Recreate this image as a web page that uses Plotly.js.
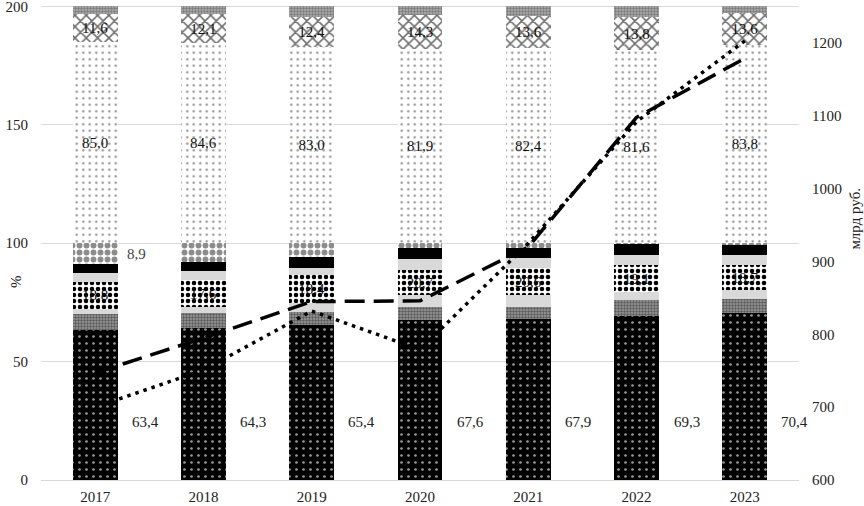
<!DOCTYPE html>
<html>
<head>
<meta charset="utf-8">
<script src="https://cdn.plot.ly/plotly-3.0.1.min.js"></script>
<style>html,body{margin:0;padding:0;background:#fff;}#chart{width:864px;height:506px;}</style>
</head>
<body>
<div id="chart"></div>
<script>
// ---- data ----
const years = ["2017", "2018", "2019", "2020", "2021", "2022", "2023"];

// lower 100% stack (bottom to top)
const blackBase   = [63.4, 64.3, 65.4, 67.6, 67.9, 69.3, 70.4];
const grayDense   = [6.5, 6.2, 5.5, 5.4, 5.1, 6.6, 6.0];
const lightGrayA  = [2.4, 2.5, 3.8, 5.1, 5.1, 3.4, 3.8];
const dottedMid   = [11.5, 11.4, 11.8, 10.5, 11.4, 11.4, 10.5];
const dottedMidLabels = [18.8, 17.6, 18.4, 20.7, 20.6, 19.1, 18.7];
const lightGrayB  = [3.8, 3.8, 3.0, 4.6, 4.2, 4.2, 4.2];
const blackTop    = [3.5, 3.8, 4.6, 4.7, 4.2, 4.6, 4.3];
const checkered   = [8.9, 8.0, 5.9, 2.1, 2.1, 0.5, 0.8];
const checkeredLabels = ["8,9", "", "", "", "", "", ""];

// upper 100% stack (bottom to top)
const lightDotted = [85.0, 84.6, 83.0, 81.9, 82.4, 81.6, 83.8];
const wavy        = [11.6, 12.1, 12.4, 14.3, 13.6, 13.8, 13.6];
const topGray     = [3.4, 3.3, 4.6, 3.8, 4.0, 4.6, 2.6];

// lines, bn rubles (right axis)
const dashedLine = [747, 795, 845, 846, 920, 1098, 1179];
const dottedLine = [700, 751, 832, 779, 925, 1092, 1203];

// tick values
const leftTicks  = [0, 50, 100, 150, 200];
const rightTicks = [600, 700, 800, 900, 1000, 1100, 1200];

// ---- helpers ----
const fmt = v => v.toFixed(1).replace('.', ',');
const FONT = "Liberation Serif, Times New Roman, serif";

function barTrace(y, color, pattern, text) {
  const t = {
    type: 'bar', x: years, y: y, xaxis: 'x', yaxis: 'y',
    marker: { color: color, line: { width: 0 } },
    hoverinfo: 'skip', showlegend: false
  };
  if (pattern) t.marker.pattern = pattern;
  if (text) {
    t.text = text;
    t.textposition = 'inside';
    t.insidetextanchor = 'middle';
    t.textangle = 0;
    t.constraintext = 'none';
    t.textfont = { family: FONT, size: 15, color: '#111' };
  }
  return t;
}

const traces = [
  barTrace(blackBase, '#000', { shape: '.', bgcolor: '#000', fgcolor: '#9a9a9a', size: 7, solidity: 0.12, fillmode: 'replace' }),
  barTrace(grayDense, '#8a8a8a', { shape: '.', bgcolor: '#9a9a9a', fgcolor: '#5a5a5a', size: 3, solidity: 0.5, fillmode: 'replace' }),
  barTrace(lightGrayA, '#d9d9d9'),
  barTrace(dottedMid, '#fff', { shape: '.', bgcolor: '#fff', fgcolor: '#000', size: 6, solidity: 0.45, fillmode: 'replace' }, dottedMidLabels.map(fmt)),
  barTrace(lightGrayB, '#d9d9d9'),
  barTrace(blackTop, '#000'),
  barTrace(checkered, '#fff', { shape: '.', bgcolor: '#fff', fgcolor: '#8c8c8c', size: 7, solidity: 0.55, fillmode: 'replace' }),
  barTrace(lightDotted, '#fff', { shape: '.', bgcolor: '#fff', fgcolor: '#8a8a8a', size: 6.5, solidity: 0.1, fillmode: 'replace' }, lightDotted.map(fmt)),
  barTrace(wavy, '#fff', { shape: 'x', bgcolor: '#fff', fgcolor: '#6e6e6e', size: 8, solidity: 0.35, fillmode: 'replace' }, wavy.map(fmt)),
  barTrace(topGray, '#a6a6a6', { shape: '.', bgcolor: '#b0b0b0', fgcolor: '#7a7a7a', size: 3, solidity: 0.5, fillmode: 'replace' }),
  {
    type: 'scatter', mode: 'lines', x: years, y: dashedLine, xaxis: 'x', yaxis: 'y2',
    line: { color: '#000', width: 3.5, dash: '20px,9px' }, hoverinfo: 'skip', showlegend: false
  },
  {
    type: 'scatter', mode: 'lines', x: years, y: dottedLine, xaxis: 'x', yaxis: 'y2',
    line: { color: '#000', width: 3.5, dash: '3.5px,5px' }, hoverinfo: 'skip', showlegend: false
  }
];

// annotations derived from data (category axis -> use category index)
const annotations = [];
years.forEach((yr, i) => {
  annotations.push({
    x: i, y: 24.5, xref: 'x', yref: 'y', xshift: 50, showarrow: false,
    text: fmt(blackBase[i]), font: { family: FONT, size: 15, color: '#222' }
  });
  if (checkeredLabels[i]) {
    const base = blackBase[i] + grayDense[i] + lightGrayA[i] + dottedMid[i] + lightGrayB[i] + blackTop[i];
    annotations.push({
      x: i, y: base + checkered[i] / 2, xref: 'x', yref: 'y', xshift: 41, showarrow: false,
      text: checkeredLabels[i], font: { family: FONT, size: 15, color: '#444' }
    });
  }
});
annotations.push({
  x: -0.046, y: 0.416, xref: 'paper', yref: 'paper', showarrow: false, textangle: -90,
  text: '%', font: { family: FONT, size: 15, color: '#222' }
});
annotations.push({
  x: 1.087, y: 0.549, xref: 'paper', yref: 'paper', showarrow: false, textangle: -90,
  text: 'млрд руб.', font: { family: FONT, size: 15, color: '#222' }
});

const layout = {
  width: 864, height: 506,
  margin: { l: 41, r: 65, t: 4, b: 26, pad: 0 },
  paper_bgcolor: '#fff', plot_bgcolor: '#fff',
  barmode: 'stack', bargap: 0.585,
  showlegend: false,
  font: { family: FONT, size: 15, color: '#222' },
  xaxis: {
    type: 'category', range: [-0.5, 6.5], showgrid: false, zeroline: false, showline: false,
    ticks: '', tickfont: { family: FONT, size: 15, color: '#222' }, ticklabelstandoff: 6
  },
  yaxis: {
    range: [0, 201], tickvals: leftTicks, showgrid: true, gridcolor: '#d9d9d9', gridwidth: 1,
    zeroline: true, zerolinecolor: '#d9d9d9', zerolinewidth: 1, showline: false, ticks: '',
    tickfont: { family: FONT, size: 15, color: '#222' }, ticklabelstandoff: 12,
    ticklabeloverflow: 'allow'
  },
  yaxis2: {
    overlaying: 'y', side: 'right', range: [600, 1253.6], tickvals: rightTicks,
    showgrid: false, zeroline: false, showline: false, ticks: '',
    tickfont: { family: FONT, size: 15, color: '#222' }, ticklabelstandoff: 12,
    ticklabeloverflow: 'allow'
  },
  annotations: annotations
};

Plotly.newPlot('chart', traces, layout, { staticPlot: true, displayModeBar: false });
</script>
</body>
</html>
